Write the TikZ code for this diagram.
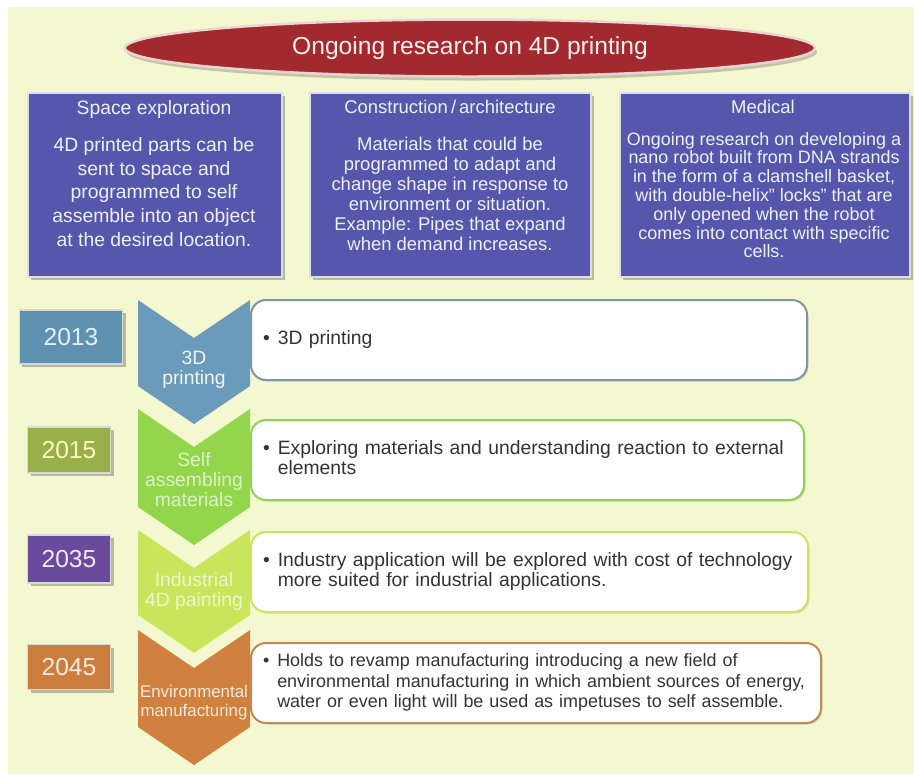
\documentclass[tikz,border=0pt]{standalone}
\usepackage{fontspec}
\setmainfont{Liberation Sans}
\usetikzlibrary{positioning,shadows,shapes.geometric}

\definecolor{panelbg}{HTML}{F4F8D0}
\definecolor{titlered}{HTML}{A2292D}
\definecolor{areablue}{HTML}{5657AC}
\definecolor{areatxt}{HTML}{EEF0F8}
\definecolor{notetxt}{HTML}{333333}
\definecolor{y13}{HTML}{5E92B0}
\definecolor{y15}{HTML}{98B04A}
\definecolor{y35}{HTML}{6A4A9C}
\definecolor{y45}{HTML}{CC7E3E}
\definecolor{ch13}{HTML}{6A9BBA}
\definecolor{ch15}{HTML}{93D64C}
\definecolor{ch35}{HTML}{C8E55C}
\definecolor{ch45}{HTML}{D1813F}
\definecolor{b13}{HTML}{7C96A8}
\definecolor{b15}{HTML}{8ED25A}
\definecolor{b35}{HTML}{CDE35E}
\definecolor{b45}{HTML}{C08A58}

% bullet with hanging lines
\newcommand{\bull}[1]{\begin{tabular}[t]{@{}l@{\hspace{1.6mm}}l@{}}\textbullet & \begin{tabular}[t]{@{}l@{}}#1\end{tabular}\end{tabular}}

\begin{document}
\begin{tikzpicture}[
    x=0.2mm, y=-0.2mm,
    soft/.style ={drop shadow={shadow xshift=0.6mm, shadow yshift=-0.6mm, fill=black, opacity=0.25}},
    area/.style ={draw=white!80!areablue, line width=0.4mm, fill=areablue, anchor=north west,
                  inner sep=0pt, minimum height=36.8mm, soft},
    areahead/.style={text=areatxt, inner sep=0pt, font=\fontsize{10.5}{12}\selectfont},
    areatext/.style={text=areatxt, inner sep=0pt, align=center},
    year/.style ={draw=white!70!gray, line width=0.3mm, minimum width=16.6mm, inner sep=0pt,
                  font=\fontsize{14}{16}\selectfont, soft},
    chevlab/.style={align=center, inner sep=0pt, font=\fontsize{11}{11.4}\selectfont},
    note/.style ={draw, fill=white, rounded corners=3mm, line width=0.4mm, anchor=west,
                  minimum height=16mm, text width=106.4mm, inner xsep=2.4mm, align=left,
                  text=notetxt, font=\fontsize{11}{11.4}\selectfont,
                  drop shadow={shadow xshift=0.3mm, shadow yshift=-0.3mm, fill=black, opacity=0.12}}
]
    \useasboundingbox (0,0) rectangle (914,774);
    \fill[panelbg] (8,7) rectangle (914,774);

    %-----------------  Title ellipse  --------------------
    \node[ellipse, fill=titlered, draw=white!80!titlered, line width=0.5mm, minimum width=138mm,
          minimum height=11.4mm, text=white!92!titlered, font=\fontsize{14}{15}\selectfont,
          drop shadow={shadow xshift=0.4mm, shadow yshift=-0.8mm, fill=black, opacity=0.2}]
          (title) at (470,48) {Ongoing research on 4D printing};

    %-----------------  Research areas  --------------------
    \node[area, minimum width=50.8mm] (space) at (27,92) {};
    \node[area, minimum width=56.2mm] (constr) at (309,92) {};
    \node[area, minimum width=58mm] (medic) at (619,92) {};

    \node[areahead, font=\fontsize{11}{12}\selectfont] (spaceT) at (154,109) {Space exploration};
    \node[areahead] (constrT) at (450,107) {Construction\,/\,architecture};
    \node[areahead] (medicT) at (763,107) {Medical};

    \node[areatext, font=\fontsize{11}{13.6}\selectfont] (spaceB) at (154,192)
        {4D printed parts can be\\sent to space and\\programmed to self\\assemble into an object\\at the desired location.};
    \node[areatext, font=\fontsize{10.5}{11.4}\selectfont] (constrB) at (450,194)
        {Materials that could be\\programmed to adapt and\\change shape in response to\\environment or situation.\\Example: Pipes that expand\\when demand increases.};
    \node[areatext, font=\fontsize{10.2}{10.7}\selectfont] (medicB) at (764,195)
        {Ongoing research on developing a\\nano robot built from DNA strands\\in the form of a clamshell basket,\\with double-helix'' locks'' that are\\only opened when the robot\\comes into contact with specific\\cells.};

    %-----------------  Chevrons  --------------------
    \foreach \t/\b/\c in {300/386/ch13, 409/507/ch15, 530/615/ch35, 630/727/ch45}
        \fill[\c] (138,\t) -- (194,\t+38) -- (250,\t) -- (250,\b) -- (194,\b+38) -- (138,\b) -- cycle;

    \node[chevlab, text=white!90!ch13] (l13) at (194,370) {3D\\printing};
    \node[chevlab, text=white!68!ch15] (l15) at (194,480) {Self\\assembling\\materials};
    \node[chevlab, text=white!68!ch35] (l35) at (194,591) {Industrial\\4D painting};
    \node[chevlab, text=white!82!ch45, font=\fontsize{9.6}{10.8}\selectfont] (l45) at (194,703)
        {Environmental\\manufacturing};

    %-----------------  Years  --------------------
    \node[year, fill=y13, minimum width=20.6mm, minimum height=10.8mm, text=white!85!y13] (y2013) at (71,337) {2013};
    \node[year, fill=y15, minimum height=9.2mm, text=white!75!yellow] (y2015) at (69,450) {2015};
    \node[year, fill=y35, minimum height=9.6mm, text=white!88!y35] (y2035) at (69,559) {2035};
    \node[year, fill=y45, minimum height=9mm, text=white!85!y45] (y2045) at (69,667) {2045};

    %-----------------  Notes  --------------------
    \node[note, draw=b13] (n13) at (250,340) {\bull{3D printing}};
    \node[note, draw=b15, text width=105.8mm] (n15) at (250,460)
        {\bull{Exploring materials and understanding reaction to external\\elements}};
    \node[note, draw=b35, text width=106.6mm] (n35) at (250,572)
        {\bull{Industry application will be explored with cost of technology\\more suited for industrial applications.}};
    \node[note, draw=b45, text width=109.2mm, font=\fontsize{10.2}{11.4}\selectfont] (n45) at (250,683)
        {\bull{Holds to revamp manufacturing introducing a new field of\\environmental manufacturing in which ambient sources of energy,\\water or even light will be used as impetuses to self assemble.}};
\end{tikzpicture}
\end{document}
